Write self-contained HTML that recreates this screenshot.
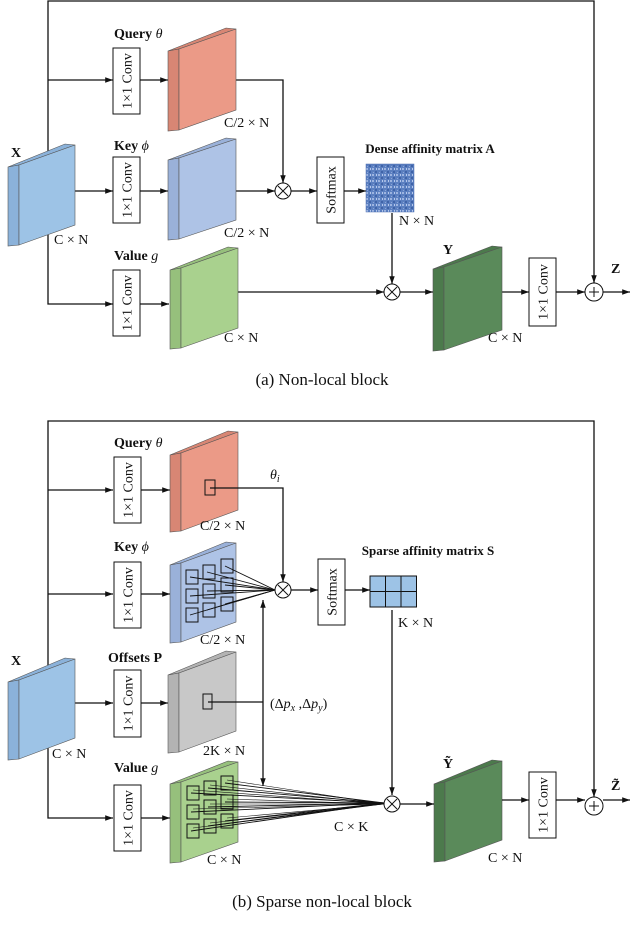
<!DOCTYPE html>
<html><head><meta charset="utf-8"><style>
html,body{margin:0;padding:0;background:#fff;}
svg{display:block;}
text{font-family:"Liberation Serif",serif;fill:#111;}
.b{font-weight:bold;}
</style></head><body>
<svg id="s" width="640" height="946" viewBox="0 0 640 946" xmlns="http://www.w3.org/2000/svg">
<defs>
<marker id="a" viewBox="0 0 10 10" refX="10" refY="5" markerWidth="6" markerHeight="6" orient="auto"><path d="M0,1.5 L10,5 L0,8.5z" fill="#111"/></marker>
<pattern id="noise" width="6" height="6" patternUnits="userSpaceOnUse"><rect width="6" height="6" fill="#5b7fc0"/><rect x="0" y="0" width="2" height="2" fill="#9db4e0"/><rect x="3" y="3" width="2" height="2" fill="#3f63a8"/><rect x="4" y="0" width="1" height="2" fill="#b5c8ec"/><rect x="1" y="4" width="1" height="1" fill="#8aa5d8"/></pattern>
</defs>
<g id="g" stroke="#111" stroke-width="1.3" fill="none"></g>
<g id="t"></g>
</svg>
<script>
var g=document.getElementById('g'),t=document.getElementById('t'),NS='http://www.w3.org/2000/svg';
function el(p,n,a,txt){var e=document.createElementNS(NS,n);for(var k in a)e.setAttribute(k,a[k]);if(txt)e.textContent=txt;p.appendChild(e);return e;}
function L(pts,arrow,w){el(g,'polyline',{points:pts,'marker-end':arrow?'url(#a)':'',"stroke-width":w||1.3});}
function block(x0,xr,ytr,s,h,fc,sc){var d=11,ytl=ytr+s,ybl=ytr+h+s;
 el(g,'polygon',{points:(x0)+','+(ytl+2)+' '+(xr-d+1)+','+(ytr-1)+' '+xr+','+ytr+' '+(x0+d)+','+ytl,fill:sc,'stroke-width':0.6,stroke:'#555'});
 el(g,'polygon',{points:x0+','+(ytl+2)+' '+(x0+d)+','+ytl+' '+(x0+d)+','+ybl+' '+x0+','+(ybl+1),fill:sc,'stroke-width':0.6,stroke:'#555'});
 el(g,'polygon',{points:(x0+d)+','+ytl+' '+xr+','+ytr+' '+xr+','+(ytr+h)+' '+(x0+d)+','+ybl,fill:fc,'stroke-width':0.6,stroke:'#555'});}
function conv(x,y,h){el(g,'rect',{x:x,y:y,width:27,height:h,fill:'#fff','stroke-width':1});
 el(t,'text',{x:0,y:0,'font-size':'14','text-anchor':'middle',transform:'translate('+(x+18.5)+','+(y+h/2)+') rotate(-90)'},'1×1 Conv');}
function soft(x,y){el(g,'rect',{x:x,y:y,width:27,height:66,fill:'#fff','stroke-width':1});
 el(t,'text',{'font-size':'14','text-anchor':'middle',transform:'translate('+(x+18.5)+','+(y+33)+') rotate(-90)'},'Softmax');}
function times(cx,cy){el(g,'circle',{cx:cx,cy:cy,r:8,fill:'#fff','stroke-width':1});L((cx-5)+','+(cy-5)+' '+(cx+5)+','+(cy+5),0,1);L((cx-5)+','+(cy+5)+' '+(cx+5)+','+(cy-5),0,1);}
function plus(cx,cy){el(g,'circle',{cx:cx,cy:cy,r:9,fill:'#fff','stroke-width':1});L((cx-5)+','+cy+' '+(cx+5)+','+cy,0,1);L(cx+','+(cy-5)+' '+cx+','+(cy+5),0,1);}
function T(x,y,s,c,sz,anchor){var e=el(t,'text',{x:x,y:y,'font-size':sz||14,'text-anchor':anchor||'start'},s);if(c)e.setAttribute('class',c);return e;}
function Ti(x,y,a,b,bold){var e=el(t,'text',{x:x,y:y,'font-size':14});var s1=el(e,'tspan',{'font-weight':'bold'},a);el(e,'tspan',{'font-style':'italic'},b);}
var BL='#9dc3e6',BLs='#8bb2da',RD='#eb9a87',RDs='#d88674',KB='#aec3e6',KBs='#9ab1d9',GR='#a9d18e',GRs='#96c07c',DG='#5a8a5a',DGs='#4c7a4c',GY='#c8c8c8',GYs='#b3b3b3';

/* ===== (a) ===== */
L('48,191 48,1 594,1 594,283',1);
L('48,80 113,80',1);
L('48,191 48,304 113,304',1);
L('140,80 168,80',1);L('140,191 168,191',1);L('140,304 169,304',1);
L('75,191 113,191',1);
L('236,80 283,80 283,183',1);
L('236,191 275,191',1);
L('291,191 317,191',1);
L('344,191 366,191',1);
L('392,213 392,284',1);
L('238,292 384,292',1);
L('400,292 433,292',1);
L('502,292 529,292',1);
L('556,292 585,292',1);
L('603,292 630,292',1);
block(8,75,145,20,80,BL,BLs);
block(168,236,29,20,81,RD,RDs);
block(168,236,139,19,81,KB,KBs);
block(170,238,248,20,80,GR,GRs);
block(433,502,247,20,83,DG,DGs);
conv(113,48,66);conv(113,157,66);conv(113,270,66);conv(529,258,68);
soft(317,157);
el(g,'rect',{x:366,y:164,width:48,height:48,fill:'url(#noise)','stroke-width':0.5,stroke:'#4a6fb0'});
times(283,191);times(392,292);plus(594,292);
T(11,157,'X','b',14);
Ti(114,38,'Query ','θ');Ti(114,150,'Key ','ϕ');Ti(114,260,'Value ','g');
T(224,127,'C/2 × N');T(224,237,'C/2 × N');T(224,342,'C × N');T(54,244,'C × N');
T(430,153,'Dense affinity matrix A','b',13,'middle');
T(399,225,'N × N');T(443,254,'Y','b');T(488,342,'C × N');T(611,273,'Z','b');
T(322,385,'(a)  Non-local block',null,17,'middle');

/* ===== (b) ===== */
L('48,700 48,421 594,421 594,797',1);
L('48,490 113,490',1);L('48,594 113,594',1);
L('48,720 48,818 113,818',1);
L('75,703 113,703',1);
L('140,490 170,490',1);L('140,594 170,594',1);L('140,703 168,703',1);L('140,818 170,818',1);
block(170,238,432,21,78,RD,RDs);
block(170,236,543,20,79,KB,KBs);
block(168,236,652,21,79,GY,GYs);
block(8,75,659,21,79,BL,BLs);
block(170,238,762,20,80,GR,GRs);
block(434,502,761,21,79,DG,DGs);
conv(114,457,66);conv(114,562,66);conv(114,670,67);conv(114,785,66);conv(529,772,66);
soft(318,559);
el(g,'rect',{x:205,y:480,width:10,height:15,fill:'none','stroke-width':1});
el(g,'rect',{x:203,y:694,width:9,height:15,fill:'none','stroke-width':1});
L('210,488 283,488 283,582',1);
L('208,702 263,702',0);
L('263,702 263,600',1);L('263,702 263,786',1);
var kc=[[186,570],[203,565],[221,559]];
for(var c=0;c<3;c++)for(var r=0;r<3;r++){var x=kc[c][0],y=kc[c][1]+r*19;el(g,'rect',{x:x,y:y,width:12,height:14,fill:'none','stroke-width':1});L((x+4)+','+(y+7)+' 275,590',0,0.9);}
var vc=[[187,786],[204,781],[221,776]];
for(var c=0;c<3;c++)for(var r=0;r<3;r++){var x=vc[c][0],y=vc[c][1]+r*19;el(g,'rect',{x:x,y:y,width:12,height:14,fill:'none','stroke-width':1});L((x+4)+','+(y+7)+' 384,803',0,0.9);L((x+6)+','+(y+4)+' 384,804',0,0.6);}
L('291,590 318,590',1);L('345,590 370,590',1);
for(var c=0;c<3;c++)for(var r=0;r<2;r++)el(g,'rect',{x:370+c*15.5,y:576+r*15.5,width:15.5,height:15.5,fill:'#9dc3e6','stroke-width':1});
L('392,610 392,795',1);
L('400,804 434,804',1);L('502,800 529,800',1);L('556,800 585,800',1);L('603,800 630,800',1);
times(283,590);times(392,804);plus(594,806);
T(11,665,'X','b');
Ti(114,447,'Query ','θ');Ti(114,551,'Key ','ϕ');T(108,662,'Offsets P','b');Ti(114,772,'Value ','g');
T(200,530,'C/2 × N');T(200,644,'C/2 × N');T(203,755,'2K × N');T(207,864,'C × N');T(52,758,'C × N');
var th=T(270,479,'');el(th,'tspan',{'font-style':'italic'},'θ');el(th,'tspan',{'font-style':'italic','font-size':10,dy:3},'i');
var dp=T(270,708,'(Δ');el(dp,'tspan',{'font-style':'italic'},'p');el(dp,'tspan',{'font-style':'italic','font-size':10,dy:3},'x');el(dp,'tspan',{dy:-3},' ,Δ');el(dp,'tspan',{'font-style':'italic'},'p');el(dp,'tspan',{'font-style':'italic','font-size':10,dy:3},'y');el(dp,'tspan',{dy:-3},')');
T(428,555,'Sparse affinity matrix S','b',13,'middle');
T(398,627,'K × N');T(334,831,'C × K');
T(443,768,'Ỹ','b');T(488,862,'C × N');T(611,790,'Z̃','b');
T(322,907,'(b)  Sparse non-local block',null,17,'middle');
</script>
</body></html>
